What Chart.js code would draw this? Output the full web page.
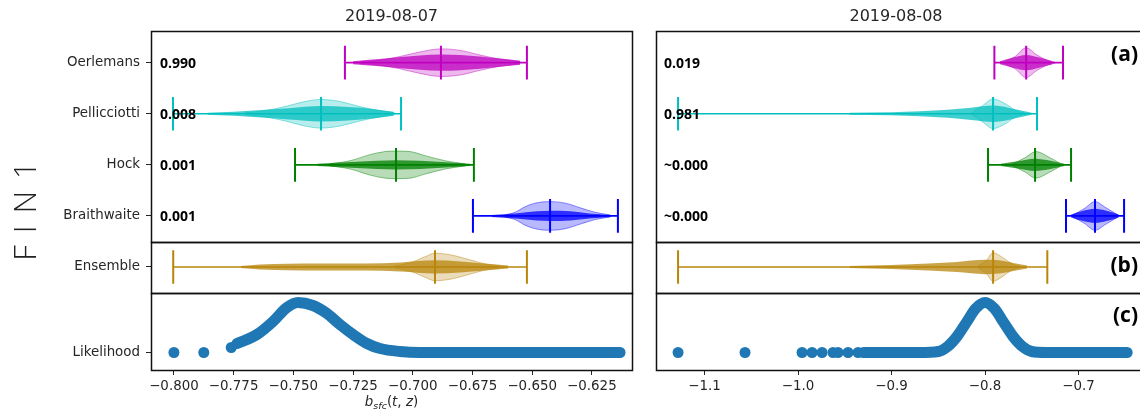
<!DOCTYPE html>
<html>
<head>
<meta charset="utf-8">
<script src="https://cdn.jsdelivr.net/npm/chart.js@4.4.1/dist/chart.umd.min.js"></script>
<style>
html,body{margin:0;padding:0;background:#fff;overflow:hidden;width:1140px;height:413px;position:relative;}
canvas{position:absolute;left:0;top:0;}
</style>
</head>
<body>
<canvas id="a0" width="1150" height="413"></canvas>
<canvas id="b0" width="1150" height="413"></canvas>
<canvas id="c0" width="1150" height="413"></canvas>
<canvas id="a1" width="1150" height="413"></canvas>
<canvas id="b1" width="1150" height="413"></canvas>
<canvas id="c1" width="1150" height="413"></canvas>
<script>
// ================= DATA =================
const DATES = ['2019-08-07', '2019-08-08'];
const ROW_LABEL = 'F I N 1';
const MODELS = ['Oerlemans', 'Pellicciotti', 'Hock', 'Braithwaite'];
const MODEL_POS = [3, 2, 1, 0];
const ENSEMBLE_LABEL = 'Ensemble';
const LIKELIHOOD_LABEL = 'Likelihood';
const PANEL_TAGS = ['(a)', '(b)', '(c)'];

const PROB_0807 = ['0.990', '0.008', '0.001', '0.001'];
const PROB_0808 = ['0.019', '0.981', '~0.000', '~0.000'];

const X_RANGE_0807 = [-0.8096, -0.6082];
const X_RANGE_0808 = [-1.1519, -0.6332];
const X_TICKS_0807 = [-0.800, -0.775, -0.750, -0.725, -0.700, -0.675, -0.650, -0.625];
const X_TICKS_0808 = [-1.1, -1.0, -0.9, -0.8, -0.7];

// whisker stats [min, median, max] per model (order of MODELS)
const STATS_0807 = [[-0.7284, -0.6882, -0.6522], [-0.8004, -0.7384, -0.7049], [-0.7493, -0.7070, -0.6744], [-0.6748, -0.6425, -0.6141]];
const STATS_0808 = [[-0.7900, -0.7560, -0.7166], [-1.1283, -0.7914, -0.7444], [-0.7968, -0.7465, -0.7080], [-0.7134, -0.6824, -0.6513]];
const ENS_STATS_0807 = [-0.8003, -0.6907, -0.6522];
const ENS_STATS_0808 = [-1.1283, -0.7914, -0.7334];

// violin body half-widths [value, half width]
const BODY_0807_OERL = [[-0.7220, 0.02], [-0.7137, 0.05], [-0.7054, 0.12], [-0.6970, 0.21], [-0.6882, 0.27], [-0.6800, 0.24], [-0.6719, 0.15], [-0.6635, 0.07], [-0.6550, 0.02]];
const BODY_0807_PELL = [[-0.7703, 0.02], [-0.7619, 0.06], [-0.7535, 0.14], [-0.7451, 0.24], [-0.7384, 0.28], [-0.7305, 0.24], [-0.7221, 0.14], [-0.7137, 0.06], [-0.7075, 0.02]];
const BODY_0807_HOCK = [[-0.7347, 0.02], [-0.7263, 0.08], [-0.7179, 0.20], [-0.7116, 0.26], [-0.7070, 0.27], [-0.7011, 0.26], [-0.6948, 0.18], [-0.6864, 0.08], [-0.6780, 0.02]];
const BODY_0807_BRAI = [[-0.6614, 0.02], [-0.6572, 0.07], [-0.6530, 0.18], [-0.6488, 0.25], [-0.6425, 0.28], [-0.6362, 0.25], [-0.6299, 0.16], [-0.6236, 0.07], [-0.6173, 0.02]];
const BODY_0807_ENS  = [[-0.7075, 0.02], [-0.7012, 0.08], [-0.6949, 0.20], [-0.6907, 0.27], [-0.6844, 0.24], [-0.6760, 0.14], [-0.6697, 0.06], [-0.6635, 0.02]];
const BODY_0808_OERL = [[-0.7786, 0.02], [-0.7679, 0.12], [-0.7561, 0.29], [-0.7444, 0.15], [-0.7337, 0.05], [-0.7251, 0.01]];
const BODY_0808_PELL = [[-0.8139, 0.02], [-0.8032, 0.15], [-0.7914, 0.29], [-0.7786, 0.20], [-0.7679, 0.07], [-0.7572, 0.01]];
const BODY_0808_HOCK = [[-0.7700, 0.02], [-0.7572, 0.14], [-0.7455, 0.26], [-0.7326, 0.16], [-0.7198, 0.03]];
const BODY_0808_BRAI = [[-0.7059, 0.02], [-0.6941, 0.14], [-0.6824, 0.28], [-0.6706, 0.16], [-0.6578, 0.02]];
const BODY_0808_ENS  = [[-0.8075, 0.02], [-0.7990, 0.12], [-0.7914, 0.28], [-0.7807, 0.18], [-0.7710, 0.06], [-0.7626, 0.01]];

// dense sample-point band half-widths [value, half width]
const DOTS_0807_OERL = [[-0.7250, 0.03], [-0.7140, 0.07], [-0.7050, 0.11], [-0.6970, 0.14], [-0.6882, 0.16], [-0.6800, 0.15], [-0.6720, 0.12], [-0.6635, 0.08], [-0.6550, 0.04]];
const DOTS_0807_PELL = [[-0.7860, 0.02], [-0.7750, 0.04], [-0.7650, 0.07], [-0.7520, 0.11], [-0.7384, 0.15], [-0.7270, 0.13], [-0.7160, 0.09], [-0.7080, 0.04]];
const DOTS_0807_HOCK = [[-0.7400, 0.02], [-0.7280, 0.05], [-0.7150, 0.08], [-0.7070, 0.09], [-0.6970, 0.08], [-0.6860, 0.05], [-0.6760, 0.02]];
const DOTS_0807_BRAI = [[-0.6670, 0.02], [-0.6570, 0.05], [-0.6480, 0.09], [-0.6425, 0.10], [-0.6340, 0.09], [-0.6260, 0.05], [-0.6170, 0.02]];
const DOTS_0807_ENS  = [[-0.7720, 0.02], [-0.7640, 0.05], [-0.7400, 0.07], [-0.7200, 0.07], [-0.7050, 0.09], [-0.6910, 0.13], [-0.6800, 0.11], [-0.6700, 0.07], [-0.6600, 0.03]];
const DOTS_0808_OERL = [[-0.7840, 0.03], [-0.7700, 0.10], [-0.7560, 0.15], [-0.7420, 0.10], [-0.7280, 0.03]];
const DOTS_0808_PELL = [[-0.9450, 0.02], [-0.9000, 0.03], [-0.8700, 0.05], [-0.8400, 0.08], [-0.8150, 0.12], [-0.7910, 0.16], [-0.7750, 0.12], [-0.7600, 0.06], [-0.7500, 0.02]];
const DOTS_0808_HOCK = [[-0.7830, 0.02], [-0.7650, 0.07], [-0.7465, 0.12], [-0.7300, 0.08], [-0.7150, 0.02]];
const DOTS_0808_BRAI = [[-0.7080, 0.03], [-0.6950, 0.10], [-0.6824, 0.14], [-0.6700, 0.10], [-0.6570, 0.03]];
const DOTS_0808_ENS  = [[-0.9450, 0.02], [-0.9000, 0.04], [-0.8600, 0.07], [-0.8300, 0.10], [-0.8000, 0.14], [-0.7850, 0.13], [-0.7700, 0.08], [-0.7550, 0.03]];

// likelihood (relative) [value, likelihood]
const LIK_0807_ISOLATED = [[-0.8000, 0], [-0.7875, 0], [-0.7760, 0.10]];
const LIK_0807_CURVE = [[-0.7736, 0.18], [-0.7652, 0.36], [-0.7585, 0.62], [-0.7527, 0.90], [-0.7481, 1.00], [-0.7418, 0.94], [-0.7359, 0.78], [-0.7305, 0.56], [-0.7250, 0.36], [-0.7192, 0.18], [-0.7137, 0.08], [-0.7054, 0.02], [-0.6970, 0], [-0.6132, 0]];
const LIK_0808_ISOLATED = [[-1.1283, 0], [-1.0567, 0], [-0.9957, 0], [-0.9850, 0], [-0.9743, 0], [-0.9626, 0], [-0.9572, 0], [-0.9465, 0], [-0.9358, 0]];
const LIK_0808_CURVE = [[-0.9300, 0], [-0.8700, 0], [-0.8500, 0.02], [-0.8400, 0.12], [-0.8300, 0.32], [-0.8200, 0.60], [-0.8100, 0.88], [-0.8000, 1.00], [-0.7900, 0.88], [-0.7800, 0.60], [-0.7700, 0.32], [-0.7600, 0.12], [-0.7500, 0.02], [-0.7350, 0], [-0.6480, 0]];

// ================= STYLE =================
const COLORS = {
  oer: [191, 0, 191], pel: [0, 191, 191], hock: [0, 128, 0], brai: [0, 0, 255], ens: [184, 134, 11], lik: [31, 119, 180]
};
const MODEL_COLORS = [COLORS.oer, COLORS.pel, COLORS.hock, COLORS.brai];
const CAP = 0.33;
const TXT = '#262626';
const AXIS_FONT = { family: "'DejaVu Sans', sans-serif", size: 13.4 };

function rgba(c, a) { return 'rgba(' + c[0] + ',' + c[1] + ',' + c[2] + ',' + a + ')'; }

function band(pairs, c, col, aFill, aEdge, edgeW, order) {
  const edge = edgeW > 0 ? rgba(col, aEdge) : 'rgba(0,0,0,0)';
  return [
    { data: pairs.map(p => ({ x: p[0], y: c + p[1] })), borderColor: edge, borderWidth: Math.max(edgeW, 0.01), pointRadius: 0, fill: false, cubicInterpolationMode: 'monotone', order: order },
    { data: pairs.map(p => ({ x: p[0], y: c - p[1] })), borderColor: edge, borderWidth: Math.max(edgeW, 0.01), pointRadius: 0, fill: '-1', backgroundColor: rgba(col, aFill), cubicInterpolationMode: 'monotone', order: order }
  ];
}
function whisk(stats, c, col) {
  const mn = stats[0], md = stats[1], mx = stats[2];
  return [
    { data: [{ x: mn, y: c }, { x: mx, y: c }], borderColor: rgba(col, 1), borderWidth: 1.7, pointRadius: 0, fill: false, order: 0 },
    { data: [{ x: mn, y: c - CAP }, { x: mn, y: c + CAP }, { x: mn, y: null }, { x: md, y: c - CAP }, { x: md, y: c + CAP }, { x: md, y: null }, { x: mx, y: c - CAP }, { x: mx, y: c + CAP }],
      borderColor: rgba(col, 1), borderWidth: 2, pointRadius: 0, fill: false, spanGaps: false, order: 0 }
  ];
}
function violin(c, body, dots, stats, col) {
  return [].concat(band(body, c, col, 0.28, 0.45, 1, 3), band(dots, c, col, 0.75, 0, 0, 2), whisk(stats, c, col));
}
function likelihood(curve, iso) {
  return [
    { data: curve.map(p => ({ x: p[0], y: p[1] })), borderColor: rgba(COLORS.lik, 1), borderWidth: 11, borderCapStyle: 'round', borderJoinStyle: 'round', pointRadius: 0, fill: false, cubicInterpolationMode: 'monotone' },
    { data: iso.map(p => ({ x: p[0], y: p[1] })), showLine: false, pointRadius: 5.5, pointBackgroundColor: rgba(COLORS.lik, 1), pointBorderWidth: 0 }
  ];
}
function fmt(v, dec) { return (v < 0 ? '\u2212' : '') + Math.abs(v).toFixed(dec); }

function frame(chart) {
  const ctx = chart.ctx, a = chart.chartArea;
  ctx.save(); ctx.strokeStyle = '#111'; ctx.lineWidth = 1.5;
  ctx.strokeRect(a.left + 0.5, a.top + 0.5, a.right - a.left, a.bottom - a.top);
  ctx.restore();
}
function text(ctx, s, x, y, font, align, color) {
  ctx.save(); ctx.font = font; ctx.textAlign = align || 'left'; ctx.textBaseline = 'middle'; ctx.fillStyle = color || '#000';
  ctx.fillText(s, x, y); ctx.restore();
}
function xTitle(ctx, cx, by) {
  const f1 = "italic 13.4px 'DejaVu Sans'", f2 = "italic 9.5px 'DejaVu Sans'", f3 = "13.4px 'DejaVu Sans'";
  const parts = [['b', f1, 0], ['sfc', f2, 3], ['(', f3, 0], ['t', f1, 0], [', ', f3, 0], ['z', f1, 0], [')', f3, 0]];
  ctx.save(); ctx.fillStyle = TXT; ctx.textBaseline = 'alphabetic'; ctx.textAlign = 'left';
  let w = 0; parts.forEach(p => { ctx.font = p[1]; p.push(ctx.measureText(p[0]).width); w += p[3]; });
  let x = cx - w / 2;
  parts.forEach(p => { ctx.font = p[1]; ctx.fillText(p[0], x, by + p[2]); x += p[3]; });
  ctx.restore();
}

function makePanel(id, o) {
  return new Chart(document.getElementById(id), {
    type: 'line',
    data: { datasets: o.datasets },
    options: {
      responsive: false, animation: false, events: [],
      layout: { padding: o.pad },
      plugins: { legend: { display: false }, tooltip: { enabled: false }, title: { display: false } },
      scales: {
        x: {
          type: 'linear', min: o.xr[0], max: o.xr[1], display: !!o.xTicks,
          afterBuildTicks: s => { if (o.xTicks) s.ticks = o.xTicks.map(v => ({ value: v })); },
          afterFit: s => { s.height = o.xTicks ? 43 : 0; },
          ticks: { autoSkip: false, maxRotation: 0, padding: 3, color: TXT, font: AXIS_FONT, callback: v => fmt(v, o.dec) },
          grid: { display: true, drawOnChartArea: false, drawTicks: true, tickLength: 5, color: TXT, lineWidth: 1 },
          border: { display: false }
        },
        y: {
          type: 'linear', min: o.yr[0], max: o.yr[1], display: !!o.yTicks,
          afterBuildTicks: s => { if (o.yTicks) s.ticks = o.yTicks.map(v => ({ value: v })); },
          afterFit: s => { s.width = o.yTicks ? 151 : 0; },
          ticks: { autoSkip: false, padding: 6, color: TXT, font: AXIS_FONT, callback: v => o.yLabel ? o.yLabel(v) : '' },
          grid: { display: true, drawOnChartArea: false, drawTicks: true, tickLength: 5, color: TXT, lineWidth: 1 },
          border: { display: false }
        }
      }
    },
    plugins: [{ id: 'deco', afterDraw: c => { frame(c); if (o.draw) o.draw(c); } }]
  });
}

const BODIES = [
  [BODY_0807_OERL, BODY_0807_PELL, BODY_0807_HOCK, BODY_0807_BRAI],
  [BODY_0808_OERL, BODY_0808_PELL, BODY_0808_HOCK, BODY_0808_BRAI]
];
const DOTS = [
  [DOTS_0807_OERL, DOTS_0807_PELL, DOTS_0807_HOCK, DOTS_0807_BRAI],
  [DOTS_0808_OERL, DOTS_0808_PELL, DOTS_0808_HOCK, DOTS_0808_BRAI]
];
const STATS = [STATS_0807, STATS_0808];
const ENS_BODY = [BODY_0807_ENS, BODY_0808_ENS];
const ENS_DOTS = [DOTS_0807_ENS, DOTS_0808_ENS];
const ENS_STATS = [ENS_STATS_0807, ENS_STATS_0808];
const PROBS = [PROB_0807, PROB_0808];
const XR = [X_RANGE_0807, X_RANGE_0808];
const XT = [X_TICKS_0807, X_TICKS_0808];
const LIKC = [LIK_0807_CURVE, LIK_0808_CURVE];
const LIKI = [LIK_0807_ISOLATED, LIK_0808_ISOLATED];

const YR_A = [-0.51, 3.62], YR_B = [-0.51, 0.49], YR_C = [-0.35, 1.19];

for (let k = 0; k < 2; k++) {
  const left = k === 0;
  const padL = left ? 0 : 656, padR = left ? 518 : 9;
  const probOff = left ? 9 : 8;
  // panel (a)
  let ds = [];
  for (let i = 0; i < 4; i++) ds = ds.concat(violin(MODEL_POS[i], BODIES[k][i], DOTS[k][i], STATS[k][i], MODEL_COLORS[i]));
  makePanel('a' + k, {
    pad: { left: padL, top: 31, right: padR, bottom: 171 }, xr: XR[k], yr: YR_A,
    yTicks: left ? MODEL_POS : null, yLabel: v => MODELS[MODEL_POS.indexOf(v)], datasets: ds,
    draw: c => {
      const a = c.chartArea, ys = c.scales.y;
      for (let i = 0; i < 4; i++) text(c.ctx, PROBS[k][i], a.left + probOff, ys.getPixelForValue(MODEL_POS[i]) + 1.5, "bold 14px 'Open Sans'", 'left', '#000');
      text(c.ctx, DATES[k], (a.left + a.right) / 2 - (left ? 0 : 2.5), 17, "16px 'DejaVu Sans'", 'center', TXT);
      if (!left) text(c.ctx, PANEL_TAGS[0], 1138, 55, "bold 21px 'Open Sans'", 'right', '#000');
      if (left) {
        const ctx = c.ctx; ctx.save(); ctx.translate(27, 210); ctx.rotate(-Math.PI / 2);
        ctx.font = "300 31px 'Open Sans'"; ctx.letterSpacing = '2px';
        ctx.textAlign = 'center'; ctx.textBaseline = 'middle'; ctx.fillStyle = '#222';
        ctx.fillText(ROW_LABEL, 0, 0); ctx.restore();
      }
    }
  });
  // panel (b)
  makePanel('b' + k, {
    pad: { left: padL, top: 242, right: padR, bottom: 120 }, xr: XR[k], yr: YR_B,
    yTicks: left ? [0] : null, yLabel: () => ENSEMBLE_LABEL,
    datasets: violin(0, ENS_BODY[k], ENS_DOTS[k], ENS_STATS[k], COLORS.ens),
    draw: c => { if (!left) text(c.ctx, PANEL_TAGS[1], 1138, 266, "bold 21px 'Open Sans'", 'right', '#000'); }
  });
  // panel (c)
  makePanel('c' + k, {
    pad: { left: padL, top: 293, right: padR, bottom: 0 }, xr: XR[k], yr: YR_C,
    yTicks: left ? [0] : null, yLabel: () => LIKELIHOOD_LABEL,
    xTicks: XT[k], dec: left ? 3 : 1,
    datasets: likelihood(LIKC[k], LIKI[k]),
    draw: c => {
      const a = c.chartArea;
      if (!left) text(c.ctx, PANEL_TAGS[2], 1138, 316, "bold 21px 'Open Sans'", 'right', '#000');
      if (left) xTitle(c.ctx, (a.left + a.right) / 2, 406);
    }
  });
}
</script>
</body>
</html>
